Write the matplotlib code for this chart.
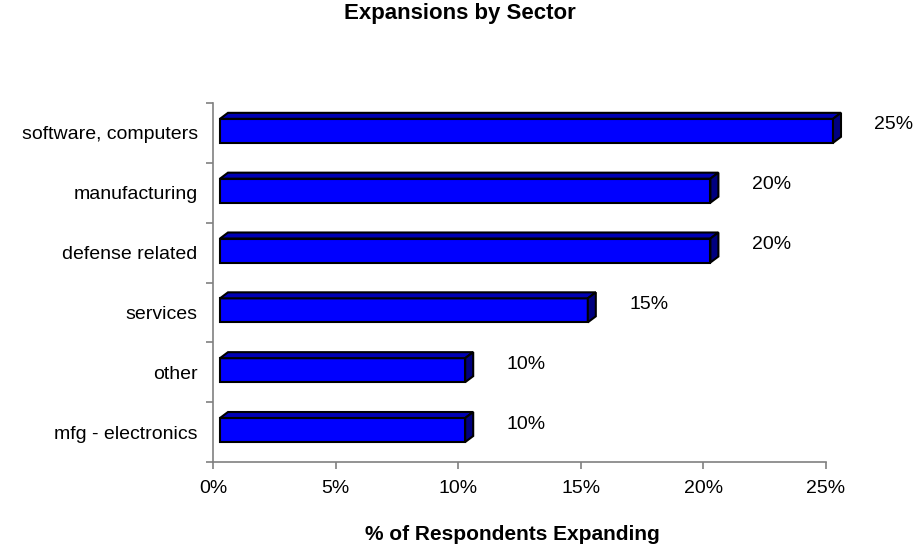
import numpy as np
import matplotlib
matplotlib.use("Agg")
import matplotlib.pyplot as plt
from matplotlib.patches import Polygon, Rectangle
from matplotlib.ticker import FuncFormatter

plt.rcParams["font.family"] = ["Liberation Sans", "DejaVu Sans"]

# bottom to top
sectors = ["mfg - electronics", "other", "services", "defense related",
           "manufacturing", "software, computers"]
share = [0.10, 0.10, 0.15, 0.20, 0.20, 0.25]
x_ticks = [0, 0.05, 0.10, 0.15, 0.20, 0.25]

FRONT = "#0000ff"
TOP = "#0000b4"
SIDE = "#000080"

fig = plt.figure(figsize=(9.19, 5.5), dpi=100)
ax = fig.add_axes([213 / 919, 88 / 550, 613 / 919, 359 / 550])
ax.set_xlim(0, 0.25)
ax.set_ylim(-0.5, len(sectors) - 0.5)

# 3-D look: floor offset, depth and bar thickness (data units)
px_x = 0.25 / 613
px_y = 6 / 359
off_x = 7 * px_x
dep_x = 8 * px_x
dep_y = 6 * px_y
h = 24 * px_y

for i, v in enumerate(share):
    y0 = i - 0.5 + 20 * px_y
    x0, x1 = off_x, v + off_x
    faces = [
        Rectangle((x0, y0), x1 - x0, h, facecolor=FRONT),
        Polygon([(x0, y0 + h), (x0 + dep_x, y0 + h + dep_y),
                 (x1 + dep_x, y0 + h + dep_y), (x1, y0 + h)], facecolor=TOP),
        Polygon([(x1, y0), (x1 + dep_x, y0 + dep_y),
                 (x1 + dep_x, y0 + h + dep_y), (x1, y0 + h)], facecolor=SIDE),
    ]
    for p in faces:
        p.set_edgecolor("black")
        p.set_linewidth(1.5)
        p.set_zorder(3)
        p.set_clip_on(False)
        ax.add_patch(p)
    ax.annotate(f"{v:.0%}", xy=(v, i), xytext=(68 * 0.72, 8 * 0.72),
                textcoords="offset points", ha="center", va="center",
                fontsize=14, annotation_clip=False)

ax.set_yticks(np.arange(len(sectors) + 1) - 0.5)
ax.set_yticks(np.arange(len(sectors)), minor=True)
ax.set_yticklabels([])
ax.set_yticklabels(sectors, minor=True)
ax.tick_params(axis="y", which="major", length=5, color="#808080", width=1.2)
ax.tick_params(axis="y", which="minor", length=0, pad=11, labelsize=14)

ax.set_xticks(x_ticks)
ax.xaxis.set_major_formatter(FuncFormatter(lambda x, _: f"{x:.0%}"))
ax.tick_params(axis="x", length=5, color="#808080", width=1.2, labelsize=14, pad=8)

for side in ["top", "right"]:
    ax.spines[side].set_visible(False)
for side in ["left", "bottom"]:
    ax.spines[side].set_color("#808080")
    ax.spines[side].set_linewidth(1.2)

fig.text(512 / 919, 15 / 550, "% of Respondents Expanding", fontsize=15,
         fontweight="bold", ha="center", va="center")
fig.text(0.5, 1 - 14 / 550, "Expansions by Sector", fontsize=16,
         fontweight="bold", ha="center", va="center")

fig.savefig("out.png", dpi=100)
